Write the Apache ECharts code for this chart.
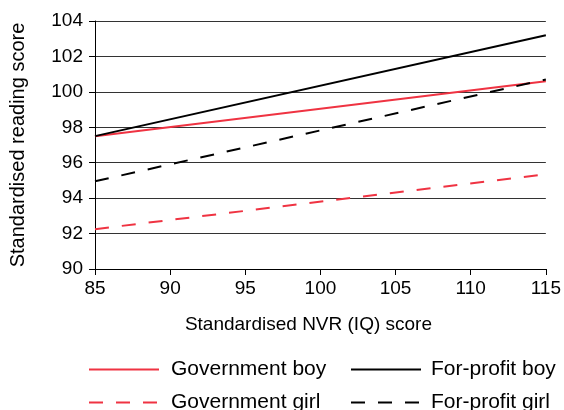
<!DOCTYPE html>
<html>
<head>
<meta charset="utf-8">
<script src="https://cdn.jsdelivr.net/npm/echarts@6/dist/echarts.min.js"></script>
<style>html,body{margin:0;padding:0;background:#fff}#c{width:564px;height:410px}</style>
</head>
<body>
<div id="c"></div>
<script>
const xRange = [85, 115];
const govBoy = [[85, 97.5], [115, 100.6]];
const profitBoy = [[85, 97.5], [115, 103.2]];
const govGirl = [[85, 92.25], [115, 95.35]];
const profitGirl = [[85, 94.95], [115, 100.7]];
const seriesNames = ['Government boy', 'For-profit boy', 'Government girl', 'For-profit girl'];
const xTitle = 'Standardised NVR (IQ) score';
const yTitle = 'Standardised reading score';

const FONT = 'Liberation Sans, Arial, sans-serif';
const RED = '#ef3342';
const chart = echarts.init(document.getElementById('c'), null, {renderer: 'canvas'});
function mk(name, data, color, dashed) {
  return {
    name, type: 'line', data, symbol: 'none', silent: true,
    lineStyle: {color, width: 2, type: dashed ? [14, 13] : 'solid'},
    itemStyle: {color}
  };
}
function leg(name, left, top, padLeft) {
  return {
    data: [name], left, top, orient: 'horizontal',
    itemWidth: 70, itemHeight: 14, selectedMode: false,
    itemStyle: {opacity: 0, borderWidth: 0},
    textStyle: {fontSize: 21, color: '#000', fontFamily: FONT, padding: [0, 0, 0, padLeft]}
  };
}
chart.setOption({
  animation: false,
  textStyle: {fontFamily: FONT, color: '#000'},
  grid: {left: 92, right: 18, top: 21, bottom: 141},
  xAxis: {
    type: 'value', min: xRange[0], max: xRange[1], interval: 5,
    axisLine: {show: true, lineStyle: {color: '#000', width: 1}},
    axisTick: {show: true, length: 6, lineStyle: {color: '#000'}},
    axisLabel: {fontSize: 19, color: '#000', margin: 10, fontFamily: FONT},
    splitLine: {show: false},
    name: xTitle, nameLocation: 'middle', nameGap: 46,
    nameTextStyle: {fontSize: 19, color: '#000', fontFamily: FONT, padding: [0, 24, 0, 0]}
  },
  yAxis: {
    type: 'value', min: 90, max: 104, interval: 2,
    axisLine: {show: true, lineStyle: {color: '#000', width: 1}},
    axisTick: {show: true, length: 6, lineStyle: {color: '#000'}},
    axisLabel: {fontSize: 19, color: '#000', margin: 12, fontFamily: FONT},
    splitLine: {show: true, lineStyle: {color: '#333', width: 1}},
    name: yTitle, nameLocation: 'middle', nameGap: 67,
    nameTextStyle: {fontSize: 20, color: '#000', fontFamily: FONT}
  },
  legend: [
    leg(seriesNames[0], 83, 354, 7),
    leg(seriesNames[2], 83, 387, 7),
    leg(seriesNames[1], 345, 354, 5),
    leg(seriesNames[3], 345, 387, 5)
  ],
  series: [
    mk(seriesNames[0], govBoy, RED, false),
    mk(seriesNames[1], profitBoy, '#000', false),
    mk(seriesNames[2], govGirl, RED, true),
    mk(seriesNames[3], profitGirl, '#000', true)
  ]
});
</script>
</body>
</html>
